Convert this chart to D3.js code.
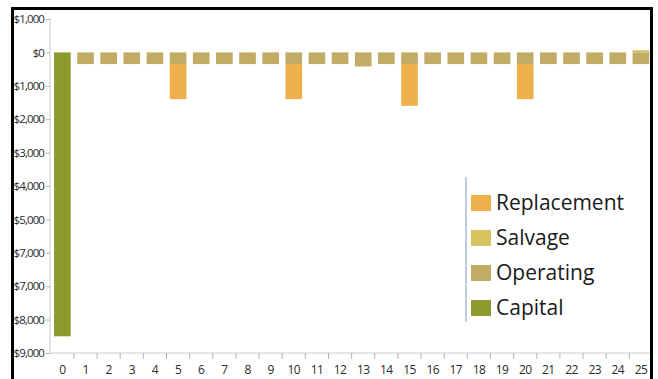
<!DOCTYPE html>
<html>
<head>
<meta charset="utf-8">
<script src="https://cdn.jsdelivr.net/npm/d3@7"></script>
<style>
  html, body { margin: 0; padding: 0; background: #fff; }
  svg { display: block; }
</style>
</head>
<body>
<svg id="chart" width="658" height="379"></svg>
<script>
// Life-cycle cash flow by year (dollars, costs negative)
const years = ["0","1","2","3","4","5","6","7","8","9","10","11","12","13","14","15","16","17","18","19","20","21","22","23","24","25"];
const capital     = [-8500, 0, 0, 0, 0, 0, 0, 0, 0, 0, 0, 0, 0, 0, 0, 0, 0, 0, 0, 0, 0, 0, 0, 0, 0, 0];
const operating   = [0, -350, -350, -350, -350, -350, -350, -350, -350, -350, -350, -350, -350, -420, -350, -350, -350, -350, -350, -350, -350, -350, -350, -350, -350, -350];
const replacement = [0, 0, 0, 0, 0, -1050, 0, 0, 0, 0, -1050, 0, 0, 0, 0, -1250, 0, 0, 0, 0, -1050, 0, 0, 0, 0, 0];
const salvage     = [0, 0, 0, 0, 0, 0, 0, 0, 0, 0, 0, 0, 0, 0, 0, 0, 0, 0, 0, 0, 0, 0, 0, 0, 0, 60];

const yTickValues = [1000, 0, -1000, -2000, -3000, -4000, -5000, -6000, -7000, -8000, -9000];
const yTickLabels = ["$1,000", "$0", "$1,000", "$2,000", "$3,000", "$4,000", "$5,000", "$7,000", "$7,000", "$8,000", "$9,000"];

const legendItems = ["Replacement", "Salvage", "Operating", "Capital"];
const colors = {
  Replacement: "#eeb04a",
  Salvage: "#cdb862",
  Operating: "#c2ab65",
  Capital: "#8f9a2e"
};
const legendColors = {
  Replacement: "#eeb04a",
  Salvage: "#d6c35e",
  Operating: "#c2ab65",
  Capital: "#8f9a2e"
};

const rows = years.map((y, i) => ({
  year: y,
  Capital: capital[i],
  Operating: operating[i],
  Replacement: replacement[i],
  Salvage: salvage[i]
}));

const keys = ["Capital", "Operating", "Replacement", "Salvage"];
const series = d3.stack().keys(keys).offset(d3.stackOffsetDiverging)(rows);

const svg = d3.select("#chart");

// outer frame
const frame = { left: 12.5, top: 8.5, right: 651.5 };

const x = d3.scaleBand().domain(years).range([50.8, 652.5]).paddingInner(0.28).paddingOuter(0.14);
const y = d3.scaleLinear().domain([-9000, 1000]).range([353, 19]);

svg.append("defs").append("clipPath").attr("id", "plotclip")
  .append("rect").attr("x", frame.left + 1).attr("y", frame.top + 1)
  .attr("width", frame.right - frame.left - 2).attr("height", 379);

const plot = svg.append("g").attr("clip-path", "url(#plotclip)");

// y axis
const yAxis = plot.append("g").attr("transform", "translate(50,0)")
  .call(d3.axisLeft(y).tickValues(yTickValues).tickSize(4)
    .tickFormat((d, i) => yTickLabels[i]));
yAxis.select(".domain").attr("stroke", "#c9c9c9").attr("d", `M0,${y(1000)}V${y(-9000)}`);
yAxis.selectAll(".tick line").attr("stroke", "#b5b5b5");
yAxis.selectAll(".tick text")
  .attr("x", -6)
  .attr("fill", "#2a2a2a")
  .style("font-family", "'Open Sans', sans-serif")
  .style("font-size", "11.5px")
  .style("letter-spacing", "-0.9px");

// x axis: tick marks sit between categories
const xAxisG = plot.append("g").attr("transform", `translate(0,${y(-9000)})`);
xAxisG.append("line").attr("x1", 50).attr("x2", 660).attr("y1", 0).attr("y2", 0)
  .attr("stroke", "#c9c9c9");
xAxisG.selectAll("line.tk").data(years.slice(1)).join("line").attr("class", "tk")
  .attr("x1", d => x(d) - x.step() * x.paddingInner() / 2)
  .attr("x2", d => x(d) - x.step() * x.paddingInner() / 2)
  .attr("y1", 0).attr("y2", 6).attr("stroke", "#b5b5b5");
xAxisG.selectAll("text").data(years).join("text")
  .attr("x", d => x(d) + x.bandwidth() / 2)
  .attr("y", 21)
  .attr("text-anchor", "middle")
  .attr("fill", "#2a2a2a")
  .style("font-family", "'Open Sans', sans-serif")
  .style("font-size", "12px")
  .style("letter-spacing", "-0.6px")
  .text(d => d);

// stacked bars
plot.append("g").selectAll("g").data(series).join("g")
  .attr("fill", s => colors[s.key])
  .selectAll("rect").data(s => s.filter(d => d[1] - d[0] !== 0)).join("rect")
  .attr("x", d => x(d.data.year))
  .attr("width", x.bandwidth())
  .attr("y", d => y(d[1]))
  .attr("height", d => y(d[0]) - y(d[1]));

// legend
const legend = svg.append("g");
legend.append("line").attr("x1", 466).attr("x2", 466).attr("y1", 177).attr("y2", 322)
  .attr("stroke", "#a9bcd6").attr("stroke-width", 1.5);
const li = legend.selectAll("g.item").data(legendItems).join("g").attr("class", "item")
  .attr("transform", (d, i) => `translate(471,${195 + i * 35})`);
li.append("rect").attr("width", 20).attr("height", 16).attr("fill", d => legendColors[d]);
li.append("text").attr("x", 25).attr("y", 15)
  .attr("fill", "#1a1a1a")
  .style("font-family", "'Open Sans', sans-serif")
  .style("font-size", "21px")
  .text(d => d);

// frame border
svg.append("path")
  .attr("d", `M${frame.left},379V${frame.top}H${frame.right}V379`)
  .attr("fill", "none").attr("stroke", "#000").attr("stroke-width", 3);
</script>
</body>
</html>
